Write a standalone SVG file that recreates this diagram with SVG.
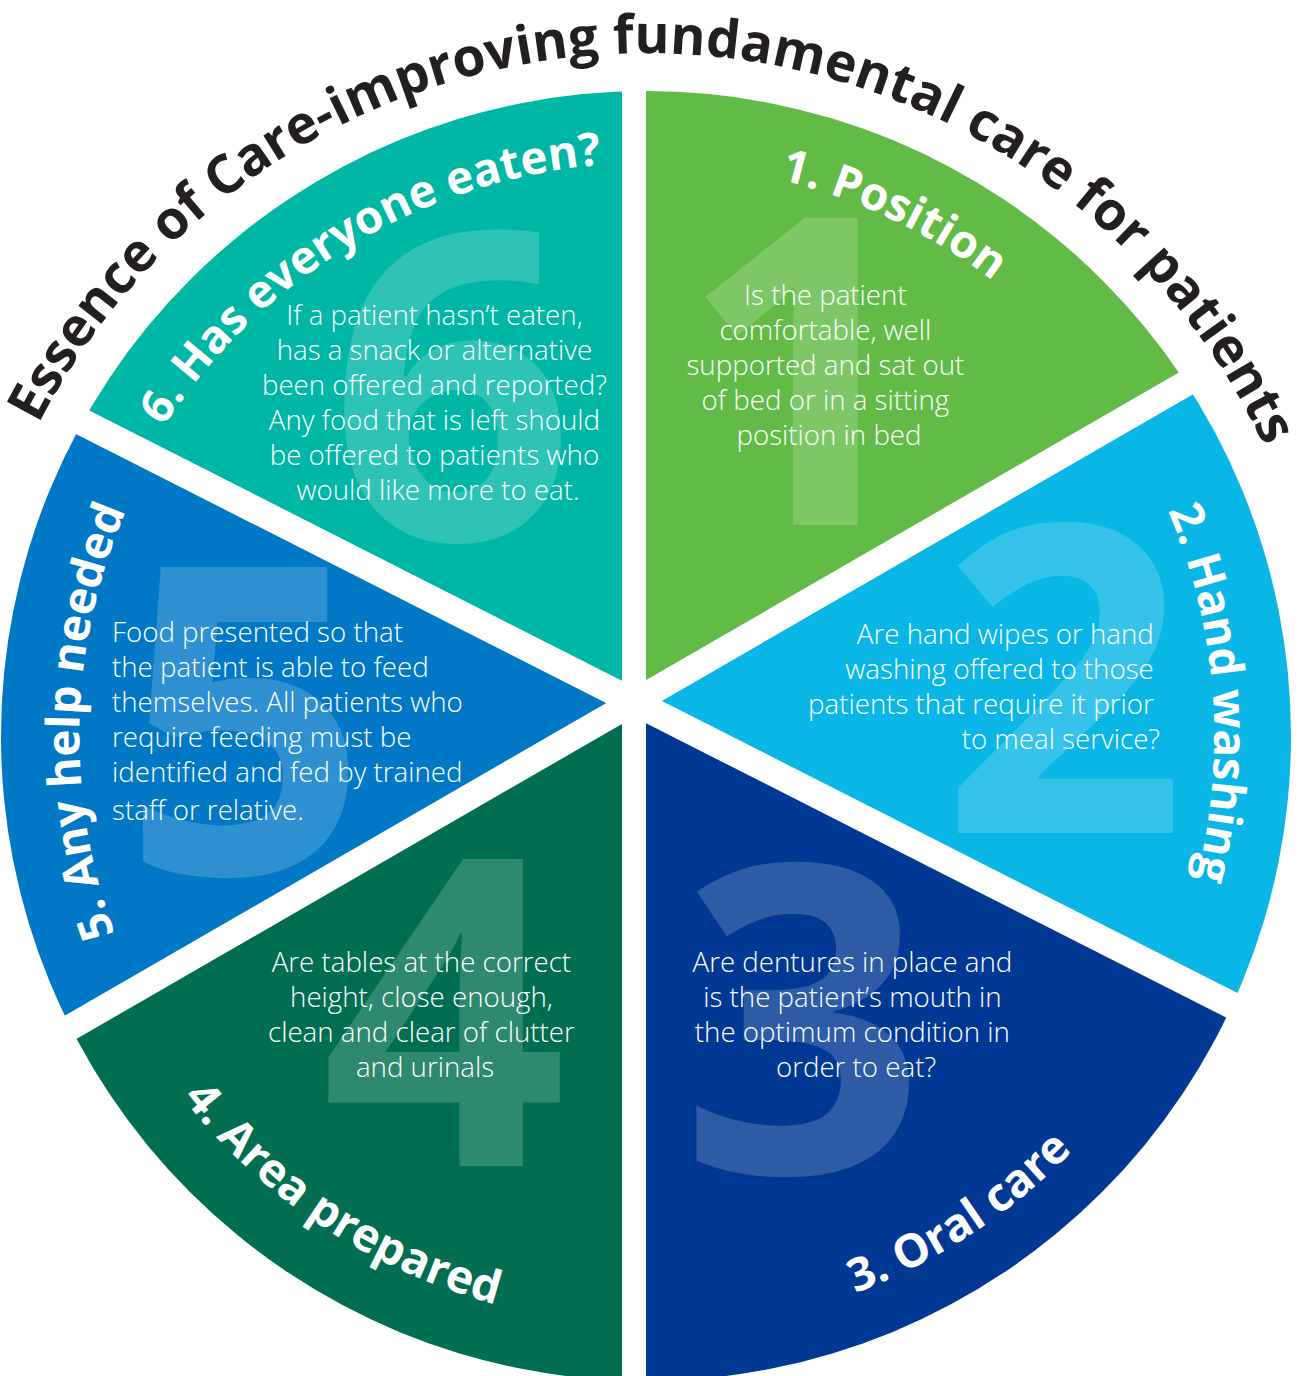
<svg xmlns="http://www.w3.org/2000/svg" width="1298" height="1376" viewBox="0 0 1298 1376">
<defs>
<style>
.num{font-family:"Open Sans","Noto Sans",sans-serif;font-weight:700;font-size:430px;fill:#fff;fill-opacity:.18;text-anchor:middle}
.lbl{font-family:"Open Sans","Noto Sans",sans-serif;font-weight:700;font-size:46px;fill:#fff;text-anchor:middle}
.txt{font-family:"Open Sans","Noto Sans",sans-serif;font-weight:300;font-size:27.7px;fill:#fff}
.title{font-family:"Open Sans","Noto Sans",sans-serif;font-weight:700;font-size:53.5px;fill:#231f20;text-anchor:middle}
</style>
<mask id="pie" maskUnits="userSpaceOnUse" x="0" y="0" width="1298" height="1376">
<circle cx="646" cy="736" r="645" fill="#fff"/>
<line x1="634" y1="0" x2="634" y2="1376" stroke="#000" stroke-width="24"/>
<line x1="-232" y1="1202" x2="1500" y2="202" stroke="#000" stroke-width="26"/>
<line x1="-257.8" y1="249.6" x2="1525.8" y2="1154.4" stroke="#000" stroke-width="27"/>
</mask>
<path id="pt" d="M-36.9 723.5 A683 683 0 0 1 1328.9 748.5"/>
<path id="p1" d="M124.8 488.5 A577 577 0 0 1 1167.2 983.5"/>
<path id="p2" d="M602.1 165.7 A572 572 0 0 1 689.9 1306.3"/>
<path id="p3" d="M148.1 1061.8 A595 595 0 0 0 1143.9 410.2"/>
<path id="p4" d="M155.1 412.3 A588 588 0 0 0 1136.9 1059.7"/>
<path id="p5" d="M631.1 1304.8 A569 569 0 0 1 660.9 167.2"/>
<path id="p6" d="M149.2 1033.3 A579 579 0 0 1 1142.8 438.7"/>
</defs>
<rect width="1298" height="1376" fill="#fff"/>

<g id="title">
<text class="title"><textPath href="#pt" startOffset="50%">Essence of Care-improving fundamental care for patients</textPath></text>
</g>

<g id="seg1">
<polygon points="634,702 634,-900 1933,-900 1933,-48" fill="#62bb46" mask="url(#pie)"/>
<text class="num" x="803" y="525">1</text>
<text class="lbl"><textPath href="#p1" startOffset="50%">1. Position</textPath></text>
<text class="txt" text-anchor="middle">
<tspan x="829" y="305">Is the patient</tspan>
<tspan x="829" y="340">comfortable, well</tspan>
<tspan x="829" y="375">supported and sat out</tspan>
<tspan x="829" y="410">of bed or in a sitting</tspan>
<tspan x="829" y="445">position in bed</tspan>
</text>
</g>

<g id="seg2">
<polygon points="634,702 1933,-48 2100,-48 2100,1380.6 1971.7,1380.6" fill="#0ab6e6" mask="url(#pie)"/>
<text class="num" x="1064" y="833">2</text>
<text class="lbl"><textPath href="#p2" startOffset="50%">2. Hand washing</textPath></text>
<text class="txt" text-anchor="end">
<tspan x="1161" y="644">Are hand wipes or hand</tspan>
<tspan x="1161" y="679">washing offered to those</tspan>
<tspan x="1161" y="714">patients that require it prior</tspan>
<tspan x="1160" y="749">to meal service?</tspan>
</text>
</g>

<g id="seg3">
<polygon points="634,702 1971.7,1380.6 1971.7,2300 634,2300" fill="#003893" mask="url(#pie)"/>
<text class="num" x="803" y="1173">3</text>
<text class="lbl"><textPath href="#p3" startOffset="50%">3. Oral care</textPath></text>
<text class="txt" text-anchor="middle">
<tspan x="856" y="972">Are dentures in place and</tspan>
<tspan x="856" y="1007">is the patient’s mouth in</tspan>
<tspan x="856" y="1042">the optimum condition in</tspan>
<tspan x="856" y="1077">order to eat?</tspan>
</text>
</g>

<g id="seg4">
<polygon points="634,702 634,2300 -665,2300 -665,1452" fill="#026e51" mask="url(#pie)"/>
<text class="num" x="444" y="1166">4</text>
<text class="lbl"><textPath href="#p4" startOffset="50%">4. Area prepared</textPath></text>
<text class="txt" text-anchor="middle">
<tspan x="425" y="972">Are tables at the correct</tspan>
<tspan x="425" y="1007">height, close enough,</tspan>
<tspan x="425" y="1042">clean and clear of clutter</tspan>
<tspan x="425" y="1077">and urinals</tspan>
</text>
</g>

<g id="seg5">
<polygon points="634,702 -665,1452 -904,1452 -904,23.4 -703.7,23.4" fill="#0078c6" mask="url(#pie)"/>
<text class="num" x="245" y="874">5</text>
<text class="lbl"><textPath href="#p5" startOffset="50%">5. Any help needed</textPath></text>
<text class="txt" text-anchor="start">
<tspan x="112" y="642">Food presented so that</tspan>
<tspan x="112" y="677">the patient is able to feed</tspan>
<tspan x="112" y="712">themselves. All patients who</tspan>
<tspan x="112" y="747">require feeding must be</tspan>
<tspan x="112" y="782">identified and fed by trained</tspan>
<tspan x="112" y="820">staff or relative.</tspan>
</text>
</g>

<g id="seg6">
<polygon points="634,702 -703.7,23.4 -703.7,-900 634,-900" fill="#00b6a5" mask="url(#pie)"/>
<text class="num" x="452" y="540">6</text>
<text class="lbl"><textPath href="#p6" startOffset="50%">6. Has everyone eaten?</textPath></text>
<text class="txt" text-anchor="middle">
<tspan x="438" y="325">If a patient hasn’t eaten,</tspan>
<tspan x="438" y="360">has a snack or alternative</tspan>
<tspan x="438" y="395">been offered and reported?</tspan>
<tspan x="438" y="430">Any food that is left should</tspan>
<tspan x="438" y="465">be offered to patients who</tspan>
<tspan x="438" y="500">would like more to eat.</tspan>
</text>
</g>

<g id="connectors"></g>
</svg>
